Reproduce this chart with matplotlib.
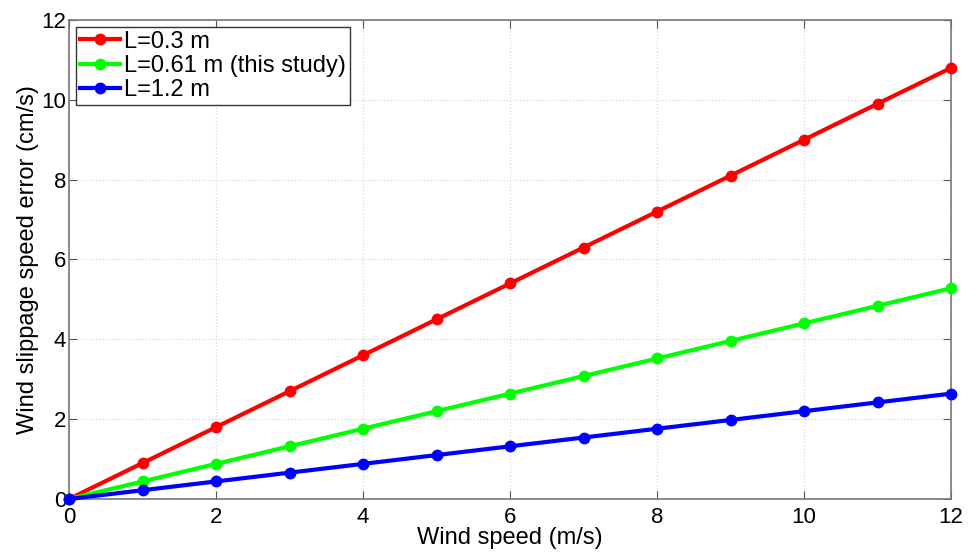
import numpy as np
import matplotlib.pyplot as plt

plt.rcParams['font.family'] = ['Liberation Sans', 'DejaVu Sans']

wind = [0, 1, 2, 3, 4, 5, 6, 7, 8, 9, 10, 11, 12]
err_03 = [0, 0.9, 1.8, 2.7, 3.6, 4.5, 5.4, 6.3, 7.2, 8.1, 9.0, 9.9, 10.8]
err_061 = [0, 0.44, 0.88, 1.32, 1.76, 2.2, 2.64, 3.08, 3.52, 3.96, 4.4, 4.84, 5.28]
err_12 = [0, 0.22, 0.44, 0.66, 0.88, 1.1, 1.32, 1.54, 1.76, 1.98, 2.2, 2.42, 2.64]

fig = plt.figure(figsize=(9.76, 5.52), dpi=100)
ax = fig.add_axes([0.0707, 0.096, 0.9037, 0.8678])

style = dict(lw=3, marker='o', ms=7.5, clip_on=False, zorder=3)
ax.plot(wind, err_03, color='#ff0000', label='L=0.3 m', **style)
ax.plot(wind, err_061, color='#00ff00', label='L=0.61 m (this study)', **style)
ax.plot(wind, err_12, color='#0000ff', label='L=1.2 m', **style)

ax.set_xlim(0, 12)
ax.set_ylim(0, 12)
ax.set_xticks(np.arange(0, 13, 2))
ax.set_yticks(np.arange(0, 13, 2))
ax.grid(True, color='#d8d8d8', linestyle=':', linewidth=0.9)
ax.tick_params(direction='in', length=6, colors='#555555', labelcolor='black',
               labelsize=16, top=True, right=True, pad=2)
ax.tick_params(axis='x', pad=6)
for s in ax.spines.values():
    s.set_color('#777777')
    s.set_linewidth(1.2)

ax.set_xlabel('Wind speed (m/s)', fontsize=17, labelpad=-1)
ax.set_ylabel('Wind slippage speed error (cm/s)', fontsize=17, labelpad=2)

leg = ax.legend(loc='upper left', fontsize=17, fancybox=False, framealpha=1,
                edgecolor='#333333', handlelength=1.7, handletextpad=0.2,
                borderpad=0.15, labelspacing=0.1, borderaxespad=0.3)
leg.get_frame().set_linewidth(1.0)

fig.savefig('out.png', dpi=100)
